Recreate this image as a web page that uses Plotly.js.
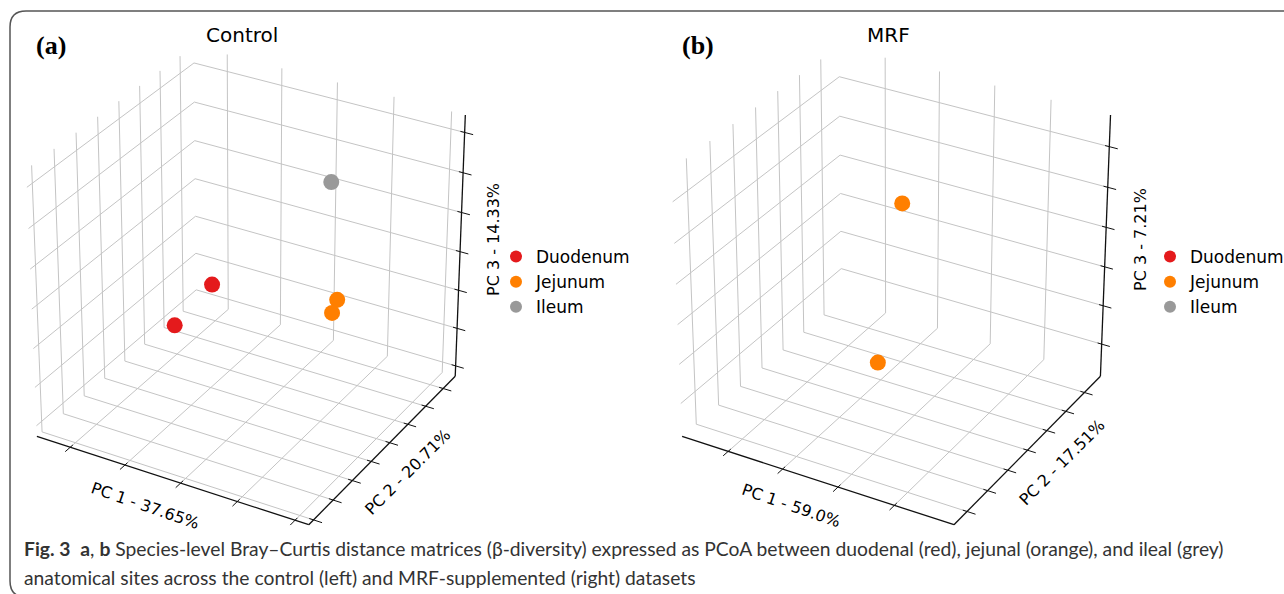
<!DOCTYPE html>
<html><head><meta charset="utf-8">
<script src="https://cdn.plot.ly/plotly-3.0.1.min.js"></script>
<style>html,body{margin:0;padding:0;background:#fff;} #chart{width:1284px;height:594px;}</style>
</head><body><div id="chart"></div>
<script>
// ================= DATA =================
const seriesNames = ['Duodenum', 'Jejunum', 'Ileum'];
const seriesColors = ['#e41a1c', '#ff7f00', '#999999'];

// Control panel: PCoA coordinates (PC1, PC2, PC3)
const ctrlDuodenumPC1 = [-0.057, -0.485];
const ctrlDuodenumPC2 = [-0.186, 0.203];
const ctrlDuodenumPC3 = [0.054, -0.315];
const ctrlJejunumPC1 = [0.406, 0.400];
const ctrlJejunumPC2 = [-0.233, -0.249];
const ctrlJejunumPC3 = [0.133, 0.107];
const ctrlIleumPC1 = [0.250];
const ctrlIleumPC2 = [-0.035];
const ctrlIleumPC3 = [0.303];

// MRF panel: PCoA coordinates (PC1, PC2, PC3); no duodenal / ileal points drawn
const mrfDuodenumPC1 = [null];
const mrfDuodenumPC2 = [null];
const mrfDuodenumPC3 = [null];
const mrfJejunumPC1 = [0.169, -0.123];
const mrfJejunumPC2 = [-0.153, 0.116];
const mrfJejunumPC3 = [0.278, -0.302];
const mrfIleumPC1 = [null];
const mrfIleumPC2 = [null];
const mrfIleumPC3 = [null];

// axis ranges and tick values
const ctrlRangePC1 = [-0.524, 0.447];
const ctrlRangePC2 = [-0.424, 0.37];
const ctrlRangePC3 = [-0.328, 0.343];
const ctrlTicksPC1 = [-0.4, -0.2, 0, 0.2, 0.4];
const ctrlTicksPC2 = [-0.4, -0.3, -0.2, -0.1, 0, 0.1, 0.2, 0.3];
const ctrlTicksPC3 = [-0.3, -0.2, -0.1, 0, 0.1, 0.2, 0.3];
const mrfRangePC1 = [-0.4725, 0.5075];
const mrfRangePC2 = [-0.3625, 0.3875];
const mrfRangePC3 = [-0.335, 0.327];
const mrfTicksPC1 = [-0.3, -0.1, 0.1, 0.3];
const mrfTicksPC2 = [-0.3, -0.2, -0.1, 0, 0.1, 0.2, 0.3];
const mrfTicksPC3 = [-0.25, -0.15, -0.05, 0.05, 0.15, 0.25];

// texts
const panelTitles = ['Control', 'MRF'];
const panelLetters = ['(a)', '(b)'];
const ctrlAxisTitles = ['PC 1 - 37.65%', 'PC 2 - 20.71%', 'PC 3 - 14.33%'];
const mrfAxisTitles = ['PC 1 - 59.0%', 'PC 2 - 17.51%', 'PC 3 - 7.21%'];
const captionLine1 = '<b>Fig. 3</b>  <b>a</b>, <b>b</b> Species-level Bray–Curtis distance matrices (β-diversity) expressed as PCoA between duodenal (red), jejunal (orange), and ileal (grey)';
const captionLine2 = 'anatomical sites across the control (left) and MRF-supplemented (right) datasets';

// ================= 3D -> 2D projection (view: elev 30, azim -60, perspective) =================
const W = 1284, H = 594;
const px = x => x / W;
const py = y => 1 - y / H;
const ELEV = 30 * Math.PI / 180, AZIM = -60 * Math.PI / 180;
const Rv = [-Math.sin(AZIM), Math.cos(AZIM), 0];
const Uv = [-Math.sin(ELEV) * Math.cos(AZIM), -Math.sin(ELEV) * Math.sin(AZIM), Math.cos(ELEV)];
const Ev = [Math.cos(ELEV) * Math.cos(AZIM), Math.cos(ELEV) * Math.sin(AZIM), Math.sin(ELEV)];
const dot = (a, b) => a[0] * b[0] + a[1] * b[1] + a[2] * b[2];

function makeProjector(view) {
  return function (u, v, w) {
    const p = [u - 0.5, v - 0.5, (w - 0.5) * 2 * view.h];
    const f = view.dist / (view.dist - dot(p, Ev));
    return [view.cx + view.k * dot(p, Rv) * f, view.cy - view.k * dot(p, Uv) * f];
  };
}
const norm = (val, r) => (val === null ? null : (val - r[0]) / (r[1] - r[0]));

const traces = [];
function seg(arr, a, b) { arr.x.push(a[0], b[0], null); arr.y.push(a[1], b[1], null); }

function buildPanel(panel) {
  const P = makeProjector(panel.view);
  const [r1, r2, r3] = panel.ranges;
  const [t1, t2, t3] = panel.ticks;
  const grid = {x: [], y: []}, axes = {x: [], y: []}, tks = {x: [], y: []};
  // floor (w = 0)
  t1.forEach(t => { const u = norm(t, r1); seg(grid, P(u, 0, 0), P(u, 1, 0)); });
  t2.forEach(t => { const v = norm(t, r2); seg(grid, P(0, v, 0), P(1, v, 0)); });
  // back wall (v = 1)
  t1.forEach(t => { const u = norm(t, r1); seg(grid, P(u, 1, 0), P(u, 1, 1)); });
  t3.forEach(t => { const w = norm(t, r3); seg(grid, P(0, 1, w), P(1, 1, w)); });
  // left wall (u = 0)
  t2.forEach(t => { const v = norm(t, r2); seg(grid, P(0, v, 0), P(0, v, 1)); });
  t3.forEach(t => { const w = norm(t, r3); seg(grid, P(0, 0, w), P(0, 1, w)); });
  // axis lines
  seg(axes, P(0, 0, 0), P(1, 0, 0));
  seg(axes, P(1, 0, 0), P(1, 1, 0));
  seg(axes, P(1, 1, 0), P(1, 1, 1));
  // ticks
  t1.forEach(t => { const u = norm(t, r1); seg(tks, P(u, 0.015, 0), P(u, -0.03, 0)); });
  t2.forEach(t => { const v = norm(t, r2); seg(tks, P(0.985, v, 0), P(1.03, v, 0)); });
  t3.forEach(t => { const w = norm(t, r3); seg(tks, P(0.985, 1, w), P(1.03, 1, w)); });

  traces.push({type: 'scatter', mode: 'lines', x: grid.x, y: grid.y, line: {color: '#c4c4c4', width: 1}, showlegend: false, hoverinfo: 'skip'});
  traces.push({type: 'scatter', mode: 'lines', x: axes.x, y: axes.y, line: {color: '#111', width: 1.3}, showlegend: false, hoverinfo: 'skip'});
  traces.push({type: 'scatter', mode: 'lines', x: tks.x, y: tks.y, line: {color: '#111', width: 1}, showlegend: false, hoverinfo: 'skip'});

  panel.series.forEach((s, i) => {
    const xs = [], ys = [];
    for (let j = 0; j < s[0].length; j++) {
      if (s[0][j] === null) { xs.push(null); ys.push(null); continue; }
      const q = P(norm(s[0][j], r1), norm(s[1][j], r2), norm(s[2][j], r3));
      xs.push(q[0]); ys.push(q[1]);
    }
    traces.push({
      type: 'scatter', mode: 'markers', name: seriesNames[i], legend: panel.legend, showlegend: true,
      x: xs, y: ys, marker: {size: 16, color: seriesColors[i], line: {width: 0}},
      hoverinfo: 'skip', cliponaxis: false
    });
  });
}

buildPanel({
  view: {cx: 249.3, cy: 277, k: 313.6, h: 0.486, dist: 10},
  ranges: [ctrlRangePC1, ctrlRangePC2, ctrlRangePC3],
  ticks: [ctrlTicksPC1, ctrlTicksPC2, ctrlTicksPC3],
  legend: 'legend',
  series: [
    [ctrlDuodenumPC1, ctrlDuodenumPC2, ctrlDuodenumPC3],
    [ctrlJejunumPC1, ctrlJejunumPC2, ctrlJejunumPC3],
    [ctrlIleumPC1, ctrlIleumPC2, ctrlIleumPC3]
  ]
});
buildPanel({
  view: {cx: 894.5, cy: 277, k: 313.6, h: 0.486, dist: 10},
  ranges: [mrfRangePC1, mrfRangePC2, mrfRangePC3],
  ticks: [mrfTicksPC1, mrfTicksPC2, mrfTicksPC3],
  legend: 'legend2',
  series: [
    [mrfDuodenumPC1, mrfDuodenumPC2, mrfDuodenumPC3],
    [mrfJejunumPC1, mrfJejunumPC2, mrfJejunumPC3],
    [mrfIleumPC1, mrfIleumPC2, mrfIleumPC3]
  ]
});

// ================= annotations =================
const font = 'DejaVu Sans, sans-serif';
const ann = [];
const A = (text, x, y, opts) => ann.push(Object.assign({text: text, x: px(x), y: py(y), xref: 'paper', yref: 'paper', showarrow: false, xanchor: 'center', yanchor: 'middle'}, opts));
A(panelTitles[0], 242, 35, {font: {family: font, size: 20, color: '#000'}});
A(panelTitles[1], 888, 35, {font: {family: font, size: 20, color: '#000'}});
A('<b>' + panelLetters[0] + '</b>', 51, 45, {font: {family: 'Liberation Serif, serif', size: 26, color: '#000'}});
A('<b>' + panelLetters[1] + '</b>', 698, 45, {font: {family: 'Liberation Serif, serif', size: 26, color: '#000'}});
const axFont = {family: font, size: 16, color: '#000'};
A(ctrlAxisTitles[0], 145, 505, {textangle: 19, font: axFont});
A(ctrlAxisTitles[1], 407, 472, {textangle: -45, font: axFont});
A(ctrlAxisTitles[2], 494, 240, {textangle: -90, font: axFont});
A(mrfAxisTitles[0], 791, 505, {textangle: 19, font: axFont});
A(mrfAxisTitles[1], 1062, 463, {textangle: -45, font: axFont});
A(mrfAxisTitles[2], 1141, 240, {textangle: -90, font: axFont});
const capFont = {family: 'Lato, sans-serif', size: 19.3, color: '#333'};
A(captionLine1, 22, 548, {xanchor: 'left', font: capFont});
A(captionLine2, 22, 577, {xanchor: 'left', font: capFont});

const framePath = `M ${px(1300)} ${py(11)} L ${px(26)} ${py(11)} Q ${px(10)} ${py(11)} ${px(10)} ${py(27)} L ${px(10)} ${py(581)} Q ${px(10)} ${py(597)} ${px(26)} ${py(597)} L ${px(1300)} ${py(597)}`;

const hidden = {visible: false, fixedrange: true, showgrid: false, zeroline: false};
const layout = {
  width: W, height: H, margin: {l: 0, r: 0, t: 0, b: 0, pad: 0, autoexpand: false},
  paper_bgcolor: '#fff', plot_bgcolor: '#fff', hovermode: false,
  xaxis: Object.assign({range: [0, W], domain: [0, 1]}, hidden),
  yaxis: Object.assign({range: [H, 0], domain: [0, 1]}, hidden),
  legend: {x: px(496), y: py(239), xanchor: 'left', yanchor: 'top', bgcolor: 'rgba(0,0,0,0)', font: {family: font, size: 17, color: '#000'}, itemsizing: 'constant'},
  legend2: {x: px(1150), y: py(239), xanchor: 'left', yanchor: 'top', bgcolor: 'rgba(0,0,0,0)', font: {family: font, size: 17, color: '#000'}, itemsizing: 'constant'},
  annotations: ann,
  shapes: [{type: 'path', xref: 'paper', yref: 'paper', path: framePath, line: {color: '#555', width: 1.5}}]
};

Plotly.newPlot('chart', traces, layout, {displayModeBar: false, staticPlot: true});
</script>
</body></html>
